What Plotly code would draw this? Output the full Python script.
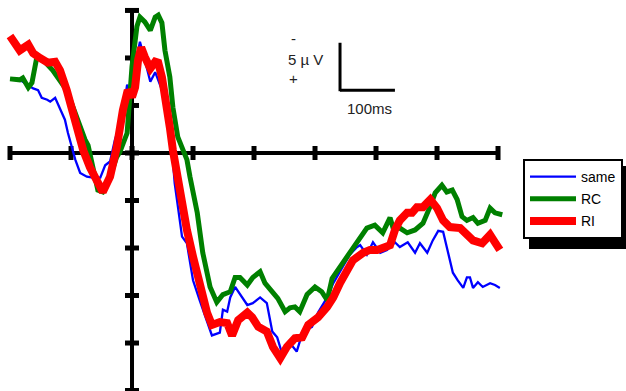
import plotly.graph_objects as go

# ---- data (time in ms, amplitude in microvolts; negative plotted up) ----
same_t = [-200, -184, -172, -162, -154, -148, -139, -134, -126, -118, -110, -105, -98, -93, -85, -74, -64, -52,
          -44, -36, -28, -16, -8, -3, 5, 13, 21, 30, 38, 51, 57, 66, 70, 82, 90, 100, 111, 123, 131, 144,
          149, 156, 161, 169, 177, 189, 198, 210, 221, 230, 238, 246, 259, 270, 280, 295, 305, 308, 320, 330,
          346, 357, 369, 374, 385, 395, 407, 418, 431, 439, 452, 464, 472, 484, 493, 502, 510, 518, 526, 534,
          543, 549, 554, 559, 567, 575, 587, 595, 603]
same_v = [-7.7, -7.7, -7.2, -6.8, -6.6, -5.8, -5.6, -5.4, -5.8, -4.7, -3.5, -2.1, -0.3, 0.7, 2.1, 2.5, 2.6, 2.6,
          1.3, 0.9, -1.4, -3.8, -7.2, -6.3, -9.1, -11.7, -9.8, -7.5, -8.5, -6.3, -3.5, 0.0, 3.2, 8.8, 9.5, 13.4, 15.5, 17.6, 19.2, 18.9,
          16.5, 16.7, 15.2, 14.1, 14.9, 16.0, 15.8, 15.2, 15.8, 18.8, 19.4, 21.1, 20.0, 20.9, 18.8, 18.3, 16.8, 16.5, 15.2, 13.7,
          12.0, 10.7, 9.9, 9.7, 10.7, 9.4, 10.5, 10.2, 9.4, 9.9, 9.4, 10.5, 9.5, 10.5, 9.2, 8.2, 8.3, 10.5, 12.6, 13.4,
          14.2, 13.1, 13.1, 14.2, 13.6, 14.1, 13.7, 13.9, 14.2]

rc_t = [-200, -184, -179, -170, -164, -156, -146, -130, -107, -90, -77, -72, -64, -56, -48, -36, -25, -20, -8, 0,
        8, 13, 21, 30, 38, 43, 49, 54, 62, 67, 75, 84, 90, 95, 103, 107, 116, 128, 139, 149,
        161, 169, 177, 189, 198, 210, 218, 230, 239, 251, 259, 267, 275, 287, 297, 300, 311, 320, 328, 341,
        357, 374, 385, 398, 411, 423, 428, 439, 451, 464, 477, 489, 497, 508, 516, 525, 533, 541, 549, 559,
        567, 579, 587, 595, 607]
rc_v = [-7.8, -7.7, -7.9, -6.9, -7.4, -10.1, -9.8, -8.7, -6.6, -3.5, -1.4, -0.8, 1.5, 3.9, 4.1, 2.5, 0.4, -0.1, -2.1, -9.1,
        -13.3, -14.3, -13.8, -12.9, -14.3, -14.5, -13.7, -10.8, -8.0, -4.8, -1.7, -0.3, 0.7, 2.5, 4.9, 6.3, 10.5, 14.1, 15.7, 14.9,
        14.6, 13.1, 13.1, 13.9, 13.1, 12.5, 13.7, 14.7, 15.3, 16.7, 16.3, 16.2, 16.7, 14.9, 14.2, 14.1, 14.6, 15.5, 13.2, 12.0,
        10.5, 8.8, 7.9, 7.6, 8.4, 6.8, 7.9, 7.9, 8.4, 8.1, 7.4, 5.6, 4.2, 3.4, 4.1, 3.9, 4.9, 6.7, 7.1, 6.8,
        7.4, 7.1, 5.8, 6.3, 6.5]

ri_t = [-200, -184, -170, -162, -151, -138, -126, -118, -107, -98, -90, -80, -69, -57, -48, -36, -25, -15, -7, 0,
        5, 10, 15, 21, 30, 38, 43, 49, 57, 62, 67, 74, 82, 90, 100, 111, 123, 131, 144, 156,
        164, 174, 189, 197, 207, 221, 231, 243, 254, 267, 279, 289, 305, 320, 330, 341, 352, 362, 379, 390,
        402, 411, 423, 431, 439, 451, 459, 467, 477, 489, 500, 510, 521, 538, 549, 559, 574, 587, 595, 603]
ri_v = [-12.3, -10.8, -11.4, -10.5, -10.0, -9.5, -9.6, -8.7, -6.6, -4.5, -2.4, -0.3, 1.5, 3.2, 4.1, 2.5, -0.6, -4.5, -6.6, -5.9,
        -6.9, -9.8, -11.1, -10.1, -8.9, -9.6, -9.5, -8.0, -5.3, -2.7, -0.3, 2.5, 4.4, 8.1, 10.9, 14.1, 16.8, 18.1, 17.8, 17.9,
        19.2, 17.6, 16.8, 17.3, 18.3, 18.8, 20.4, 21.6, 20.4, 19.5, 19.4, 18.1, 17.3, 16.2, 15.2, 13.7, 12.3, 11.3, 10.5, 10.2,
        10.2, 9.9, 9.7, 8.1, 7.1, 6.3, 6.3, 5.7, 5.7, 4.9, 5.8, 7.1, 7.8, 7.9, 8.6, 9.2, 9.5, 8.6, 9.4, 10.2]

series_names = ["same", "RC", "RI"]
x_ticks = [-200, -100, 0, 100, 200, 300, 400, 500, 600]
y_ticks = [-15, -10, -5, 0, 5, 10, 15, 20, 25]

fig = go.Figure()

# axes drawn through the data scales
fig.add_trace(go.Scatter(x=[x_ticks[0], x_ticks[-1]], y=[0, 0], mode="lines",
                         line=dict(color="black", width=4), showlegend=False, hoverinfo="skip"))
fig.add_trace(go.Scatter(x=[0, 0], y=[y_ticks[0], 26], mode="lines",
                         line=dict(color="black", width=4), showlegend=False, hoverinfo="skip"))
fig.add_trace(go.Scatter(x=x_ticks, y=[0] * len(x_ticks), mode="markers",
                         marker=dict(symbol="line-ns", size=10, line=dict(color="black", width=5)),
                         showlegend=False, hoverinfo="skip"))
fig.add_trace(go.Scatter(x=[0] * len(y_ticks), y=y_ticks, mode="markers",
                         marker=dict(symbol="line-ew", size=10, line=dict(color="black", width=5)),
                         showlegend=False, hoverinfo="skip"))

fig.add_trace(go.Scatter(x=same_t, y=same_v, mode="lines", name=series_names[0], legendgroup="a",
                         line=dict(color="#0000FF", width=2.3)))
fig.add_trace(go.Scatter(x=rc_t, y=rc_v, mode="lines", name=series_names[1], legendgroup="b",
                         line=dict(color="#008000", width=5)))
fig.add_trace(go.Scatter(x=ri_t, y=ri_v, mode="lines", name=series_names[2], legendgroup="c",
                         line=dict(color="#FF0000", width=8)))

# scale bar
fig.add_shape(type="line", xref="x", yref="y", x0=341, x1=341, y0=-11.6, y1=-6.5,
              line=dict(color="black", width=3))
fig.add_shape(type="line", xref="x", yref="y", x0=341, x1=431, y0=-6.6, y1=-6.6,
              line=dict(color="black", width=3))

# legend shadow
fig.add_shape(type="rect", xref="paper", yref="paper",
              x0=529 / 626, x1=631 / 626, y0=1 - 249 / 391, y1=1 - 166 / 391,
              fillcolor="black", line=dict(width=0), layer="above")

afont = dict(family="Liberation Sans, Arial, sans-serif", size=15, color="#222222")
fig.add_annotation(x=264, y=-12.1, xref="x", yref="y", text="-", showarrow=False, font=afont)
fig.add_annotation(x=284, y=-9.8, xref="x", yref="y", text="5 µ V", showarrow=False, font=afont)
fig.add_annotation(x=264, y=-7.8, xref="x", yref="y", text="+", showarrow=False, font=afont)
fig.add_annotation(x=390, y=-4.7, xref="x", yref="y", text="100ms", showarrow=False, font=afont)

fig.update_layout(
    width=626, height=391,
    margin=dict(l=0, r=0, t=0, b=0),
    paper_bgcolor="white", plot_bgcolor="white",
    xaxis=dict(range=[-216.4, 809.8], visible=False, fixedrange=True),
    yaxis=dict(range=[25.05, -16.1], visible=False, fixedrange=True),
    showlegend=True,
    legend=dict(x=523 / 626, y=1 - 159 / 391, xanchor="left", yanchor="top",
                bgcolor="white", bordercolor="black", borderwidth=2,
                font=dict(family="Liberation Sans, Arial, sans-serif", size=14, color="black"),
                traceorder="grouped", tracegroupgap=1, itemwidth=46),
)

fig.write_html("out.html", config={"displayModeBar": False},
               post_script="document.body.style.margin='0';document.body.style.overflow='hidden';")
